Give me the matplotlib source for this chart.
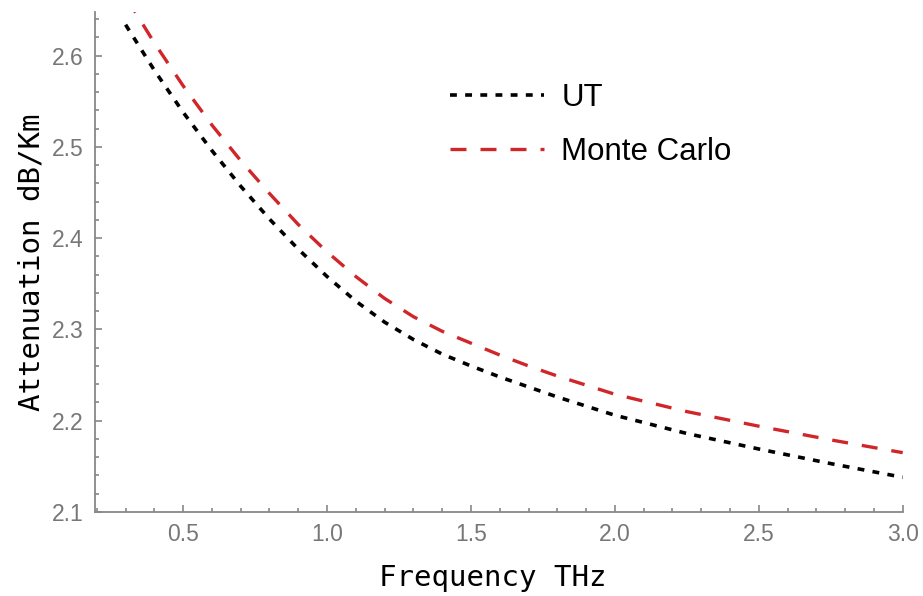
import matplotlib.pyplot as plt

# frequency (THz) and attenuation (dB/Km)
freq = [0.3, 0.4, 0.5, 0.6, 0.7, 0.8, 0.9, 1.0, 1.1, 1.2, 1.3, 1.4, 1.5,
        1.6, 1.7, 1.8, 1.9, 2.0, 2.25, 2.5, 2.75, 3.0]
ut = [2.634, 2.584, 2.538, 2.496, 2.457, 2.421, 2.388, 2.358, 2.331, 2.308,
      2.289, 2.273, 2.260, 2.248, 2.237, 2.226, 2.216, 2.206, 2.186, 2.169,
      2.153, 2.138]
monte_carlo = [2.665, 2.614, 2.567, 2.524, 2.485, 2.449, 2.415, 2.385, 2.358,
               2.334, 2.314, 2.298, 2.285, 2.272, 2.260, 2.249, 2.239, 2.229,
               2.210, 2.194, 2.179, 2.165]

y_ticks = [2.1, 2.2, 2.3, 2.4, 2.5, 2.6]
x_ticks = [0.5, 1.0, 1.5, 2.0, 2.5, 3.0]

fig = plt.figure(figsize=(9.23, 5.96), dpi=100)
ax = fig.add_axes([0.103, 0.141, 0.875, 0.839])

ax.plot(freq, ut, color='black', lw=2.6, linestyle=(0, (1.9, 2.3)), label='UT')
ax.plot(freq, monte_carlo, color='#d0262a', lw=2.4, linestyle=(0, (4.8, 4.2)),
        label='Monte Carlo')

ax.set_xlim(0.194, 3.0)
ax.set_ylim(2.1, 2.648)
ax.set_xticks(x_ticks)
ax.set_yticks(y_ticks)
ax.set_xticks([v / 10 for v in range(2, 31)], minor=True)
ax.set_yticks([2.1 + v * 0.02 for v in range(28)], minor=True)
ax.set_xticklabels(['%.1f' % v for v in x_ticks])
ax.set_yticklabels(['%.1f' % v for v in y_ticks])

for s in ['top', 'right']:
    ax.spines[s].set_visible(False)
for s in ['left', 'bottom']:
    ax.spines[s].set_color('#888888')
    ax.spines[s].set_linewidth(1.3)
    ax.spines[s].set_clip_on(False)

ax.tick_params(which='both', direction='in', color='#888888', width=1.2,
               labelcolor='#777777', labelsize=16.5)
ax.tick_params(which='major', length=5, pad=8)
ax.tick_params(which='minor', length=3)
for lab in ax.get_xticklabels() + ax.get_yticklabels():
    lab.set_family('Liberation Sans')

ax.set_xlabel('Frequency THz', family='DejaVu Sans Mono', fontsize=21, labelpad=14)
ax.set_ylabel('Attenuation dB/Km', family='DejaVu Sans Mono', fontsize=21, labelpad=5)
ax.xaxis.set_label_coords(0.492, -0.105)

ax.legend(loc='upper left', bbox_to_anchor=(0.44, 0.857), frameon=False,
          prop={'family': 'Liberation Sans', 'size': 22.5}, handlelength=3.0,
          handletextpad=0.55, labelspacing=0.76, borderpad=0, borderaxespad=0)

fig.savefig('out.png', dpi=100)
